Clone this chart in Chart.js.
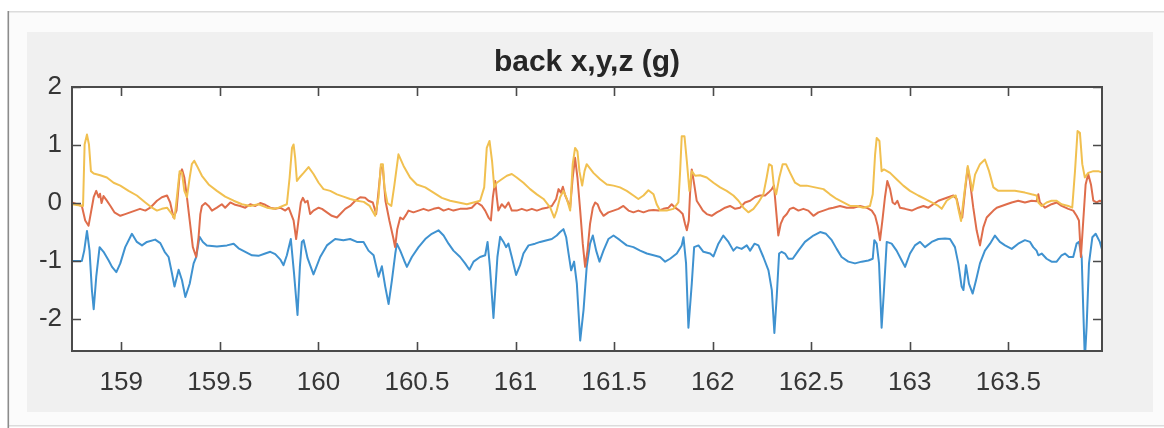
<!DOCTYPE html>
<html>
<head>
<meta charset="utf-8">
<title>back x,y,z (g)</title>
<script src="https://cdn.jsdelivr.net/npm/chart.js@4.4.1/dist/chart.umd.min.js"></script>
<style>
  html, body { margin: 0; padding: 0; background: #ffffff; }
  canvas { display: block; }
</style>
</head>
<body>
<canvas id="accel" width="1164" height="428"></canvas>
<script>
// ---- chart text and axis ticks ----
const titleText = 'back x,y,z (g)';
const xTicks = [159, 159.5, 160, 160.5, 161, 161.5, 162, 162.5, 163, 163.5];
const xTickLabels = ['159', '159.5', '160', '160.5', '161', '161.5', '162', '162.5', '163', '163.5'];
const yTicks = [-2, -1, 0, 1, 2];
const yTickLabels = ['-2', '-1', '0', '1', '2'];
const xRange = [158.75, 163.975];
const yRange = [-2.55, 2];

// ---- x axis of the back sensor (time in s, acceleration in g) ----
const tX = [158.750,158.800,158.812,158.826,158.839,158.851,158.860,158.873,158.890,158.910,158.936,158.953,158.975,158.995,159.020,159.054,159.079,159.105,159.130,159.172,159.198,159.220,159.240,159.257,159.270,159.291,159.308,159.325,159.347,159.367,159.380,159.397,159.414,159.434,159.485,159.536,159.570,159.595,159.629,159.663,159.696,159.730,159.756,159.781,159.806,159.823,159.840,159.860,159.876,159.894,159.906,159.916,159.925,159.945,159.975,160.009,160.043,160.085,160.127,160.161,160.195,160.229,160.254,160.280,160.305,160.322,160.339,160.356,160.373,160.390,160.398,160.415,160.435,160.449,160.474,160.508,160.542,160.575,160.609,160.635,160.660,160.685,160.719,160.744,160.766,160.787,160.820,160.846,160.858,160.870,160.888,160.908,160.922,160.939,160.952,160.964,160.981,161.003,161.023,161.040,161.066,161.099,161.125,161.159,161.184,161.209,161.226,161.243,161.257,161.269,161.282,161.297,161.311,161.328,161.345,161.361,161.378,161.392,161.409,161.426,161.446,161.471,161.497,161.530,161.564,161.598,161.632,161.666,161.700,161.733,161.759,161.784,161.818,161.843,161.852,161.865,161.877,161.894,161.906,161.928,161.953,161.987,162.004,162.029,162.054,162.080,162.105,162.122,162.147,162.173,162.190,162.212,162.232,162.257,162.283,162.300,162.313,162.325,162.337,162.350,162.367,162.384,162.406,162.435,162.468,162.511,162.545,162.575,162.604,162.629,162.654,162.688,162.722,162.756,162.790,162.812,162.820,162.832,162.844,162.857,162.869,162.883,162.908,162.933,162.959,162.976,163.001,163.026,163.052,163.077,163.111,163.145,163.179,163.204,163.229,163.246,163.263,163.272,163.285,163.300,163.319,163.336,163.356,163.381,163.407,163.432,163.457,163.483,163.517,163.550,163.584,163.610,163.626,163.643,163.652,163.669,163.694,163.719,163.745,163.770,163.787,163.807,163.829,163.846,163.858,163.872,163.880,163.888,163.897,163.909,163.926,163.943,163.964,163.981];
const vX = [-1.00,-1.00,-0.82,-0.48,-0.82,-1.50,-1.83,-1.27,-0.76,-0.84,-0.99,-1.10,-1.19,-1.04,-0.76,-0.53,-0.67,-0.73,-0.67,-0.63,-0.69,-0.84,-0.93,-1.21,-1.44,-1.15,-1.33,-1.62,-1.39,-1.04,-0.93,-0.58,-0.67,-0.73,-0.75,-0.73,-0.70,-0.78,-0.84,-0.90,-0.91,-0.87,-0.84,-0.88,-0.97,-1.07,-0.90,-0.62,-1.20,-1.93,-1.10,-0.67,-0.64,-0.95,-1.23,-0.93,-0.73,-0.62,-0.64,-0.62,-0.67,-0.67,-0.82,-0.90,-1.27,-1.09,-1.44,-1.74,-1.33,-0.87,-0.70,-0.82,-0.99,-1.10,-0.93,-0.76,-0.62,-0.53,-0.47,-0.56,-0.70,-0.82,-0.93,-1.04,-1.15,-1.01,-0.93,-0.90,-0.67,-1.10,-1.98,-0.93,-0.58,-0.67,-0.76,-0.70,-0.93,-1.24,-1.07,-0.87,-0.73,-0.70,-0.67,-0.64,-0.62,-0.56,-0.50,-0.45,-0.59,-0.87,-1.16,-1.01,-1.39,-2.37,-1.84,-1.10,-0.70,-0.56,-0.82,-1.01,-0.82,-0.62,-0.56,-0.64,-0.73,-0.76,-0.82,-0.87,-0.90,-0.93,-1.01,-0.96,-0.87,-0.73,-0.59,-1.04,-2.15,-1.39,-0.76,-0.73,-0.84,-0.87,-0.92,-0.70,-0.56,-0.67,-0.82,-0.76,-0.79,-0.73,-0.82,-0.70,-0.73,-0.93,-1.16,-1.50,-2.24,-1.61,-0.87,-0.84,-0.87,-0.96,-0.96,-0.82,-0.67,-0.56,-0.50,-0.53,-0.64,-0.79,-0.93,-1.01,-1.04,-1.01,-0.99,-0.96,-0.64,-0.70,-1.04,-2.15,-1.50,-0.67,-0.70,-0.82,-0.99,-1.10,-0.87,-0.73,-0.67,-0.76,-0.67,-0.62,-0.61,-0.62,-0.76,-1.04,-1.44,-1.50,-1.07,-1.39,-1.56,-1.33,-1.04,-0.82,-0.70,-0.56,-0.67,-0.73,-0.79,-0.70,-0.64,-0.67,-0.76,-0.82,-0.90,-0.87,-0.96,-1.01,-1.01,-0.90,-0.87,-0.93,-0.93,-0.70,-0.67,-0.93,-1.84,-2.70,-2.13,-1.04,-0.59,-0.53,-0.67,-0.87];

// ---- y axis of the back sensor ----
const tY = [158.750,158.800,158.817,158.834,158.860,158.873,158.885,158.892,158.900,158.910,158.925,158.945,158.965,158.995,159.020,159.045,159.070,159.095,159.122,159.147,159.181,159.206,159.232,159.248,159.265,159.280,159.296,159.308,159.320,159.333,159.347,159.363,159.380,159.392,159.401,159.409,159.426,159.443,159.460,159.485,159.510,159.527,159.553,159.578,159.603,159.629,159.654,159.680,159.705,159.730,159.756,159.781,159.806,159.832,159.849,159.874,159.887,159.899,159.911,159.921,159.933,159.945,159.958,159.975,160.001,160.018,160.043,160.068,160.094,160.111,160.136,160.161,160.187,160.212,160.237,160.254,160.276,160.293,160.305,160.317,160.327,160.340,160.360,160.381,160.389,160.400,160.415,160.430,160.445,160.457,160.482,160.508,160.533,160.558,160.584,160.609,160.635,160.660,160.685,160.719,160.753,160.778,160.804,160.830,160.846,160.863,160.875,160.885,160.897,160.905,160.913,160.930,160.947,160.964,160.981,161.006,161.032,161.057,161.083,161.108,161.133,161.159,161.184,161.206,161.218,161.230,161.240,161.252,161.263,161.277,161.290,161.302,161.314,161.328,161.341,161.353,161.365,161.378,161.392,161.404,161.416,161.429,161.446,161.471,161.497,161.522,161.547,161.573,161.598,161.623,161.649,161.674,161.700,161.725,161.750,161.776,161.792,161.810,161.831,161.848,161.860,161.869,161.879,161.885,161.894,161.906,161.919,161.936,161.950,161.970,161.995,162.021,162.038,162.063,162.088,162.114,162.139,162.164,162.190,162.215,162.240,162.266,162.283,162.300,162.311,162.322,162.333,162.345,162.359,162.376,162.392,162.409,162.435,162.460,162.485,162.511,162.536,162.562,162.587,162.612,162.646,162.680,162.714,162.747,162.781,162.807,162.824,162.837,162.849,162.861,162.874,162.886,162.900,162.913,162.925,162.937,162.950,162.976,163.010,163.043,163.069,163.094,163.119,163.145,163.170,163.195,163.221,163.238,163.255,163.266,163.280,163.294,163.305,163.322,163.339,163.356,163.373,163.390,163.407,163.424,163.441,163.466,163.491,163.517,163.550,163.584,163.618,163.643,163.652,163.660,163.686,163.719,163.745,163.770,163.804,163.829,163.846,163.858,163.868,163.880,163.892,163.905,163.919,163.931,163.948,163.964,163.981];
const vY = [0.01,-0.05,-0.30,-0.39,0.10,0.21,0.10,0.16,0.00,0.12,0.05,-0.05,-0.16,-0.22,-0.19,-0.16,-0.13,-0.10,-0.13,-0.08,0.04,0.10,0.13,0.01,-0.25,-0.13,0.49,0.58,0.44,0.10,-0.30,-0.76,-0.93,-0.59,-0.19,-0.05,0.00,-0.05,-0.13,-0.08,-0.02,-0.08,0.01,-0.03,-0.05,-0.08,-0.02,-0.05,0.00,-0.03,-0.08,-0.10,-0.08,-0.13,-0.08,-0.30,-0.62,-0.30,0.01,0.09,0.01,0.04,-0.19,-0.13,-0.08,-0.10,-0.16,-0.22,-0.25,-0.19,-0.10,-0.05,0.04,0.10,0.09,0.04,0.01,-0.19,0.20,0.62,0.60,0.04,-0.30,-0.62,-0.76,-0.45,-0.25,-0.28,-0.20,-0.13,-0.16,-0.13,-0.10,-0.13,-0.10,-0.08,-0.13,-0.10,-0.13,-0.10,-0.10,-0.08,0.01,-0.05,-0.13,-0.25,-0.30,0.10,0.38,0.10,-0.13,-0.02,-0.08,0.01,-0.13,-0.13,-0.10,-0.13,-0.10,-0.13,-0.10,-0.08,-0.05,0.07,0.24,0.18,0.28,0.13,0.04,-0.08,0.44,0.78,0.44,-0.13,-0.70,-1.10,-0.82,-0.36,-0.08,0.01,-0.02,-0.13,-0.22,-0.16,-0.13,-0.10,-0.05,-0.13,-0.16,-0.13,-0.16,-0.13,-0.12,-0.13,-0.10,-0.08,-0.02,-0.08,-0.13,-0.19,-0.36,-0.47,-0.30,0.15,0.58,0.33,0.04,-0.05,-0.13,-0.19,-0.22,-0.16,-0.13,-0.08,-0.05,-0.10,-0.08,0.01,0.04,0.10,0.13,0.13,0.18,0.24,0.30,-0.13,-0.56,-0.36,-0.25,-0.19,-0.10,-0.08,-0.13,-0.10,-0.13,-0.22,-0.16,-0.13,-0.10,-0.08,-0.05,-0.08,-0.08,-0.05,-0.08,-0.13,-0.22,-0.39,-0.64,-0.30,0.10,0.38,0.24,0.01,-0.02,0.04,-0.08,-0.10,-0.13,-0.08,-0.05,-0.08,-0.02,0.04,0.07,0.10,0.13,0.07,-0.19,-0.25,0.21,0.61,0.38,-0.08,-0.47,-0.73,-0.42,-0.25,-0.19,-0.13,-0.08,-0.05,-0.02,0.01,0.04,0.01,0.04,0.03,0.15,0.01,-0.08,-0.02,0.01,-0.05,-0.10,-0.13,-0.22,-0.30,-0.93,-0.30,0.32,0.50,0.32,0.04,0.01,0.04,0.01];

// ---- z axis of the back sensor ----
const tZ = [158.750,158.806,158.814,158.826,158.836,158.846,158.860,158.893,158.927,158.961,158.995,159.037,159.079,159.122,159.156,159.181,159.206,159.232,159.257,159.270,159.282,159.296,159.308,159.320,159.333,159.347,159.358,159.370,159.384,159.409,159.443,159.485,159.527,159.570,159.612,159.654,159.696,159.739,159.772,159.798,159.840,159.854,159.866,159.874,159.882,159.891,159.904,159.925,159.950,159.975,160.001,160.026,160.060,160.094,160.127,160.161,160.195,160.230,160.260,160.288,160.305,160.317,160.327,160.335,160.350,160.370,160.385,160.406,160.432,160.465,160.499,160.542,160.584,160.626,160.668,160.711,160.753,160.787,160.820,160.841,160.854,160.868,160.881,160.892,160.905,160.930,160.956,160.981,161.006,161.040,161.074,161.108,161.142,161.176,161.196,161.209,161.226,161.243,161.260,161.277,161.290,161.302,161.314,161.324,161.338,161.350,161.361,161.395,161.429,161.463,161.497,161.530,161.564,161.598,161.623,161.649,161.674,161.700,161.716,161.733,161.767,161.801,161.826,161.835,161.843,161.857,161.869,161.882,161.894,161.911,161.936,161.970,162.004,162.038,162.071,162.105,162.131,162.156,162.181,162.207,162.232,162.257,162.274,162.286,162.300,162.311,162.322,162.338,162.355,162.372,162.393,162.418,162.443,162.477,162.519,162.562,162.595,162.629,162.663,162.697,162.731,162.764,162.798,162.812,162.824,162.832,162.846,162.857,162.869,162.900,162.933,162.967,163.001,163.043,163.077,163.111,163.145,163.162,163.187,163.212,163.233,163.246,163.260,163.276,163.294,163.305,163.317,163.331,163.356,163.381,163.402,163.424,163.449,163.483,163.533,163.584,163.618,163.643,163.652,163.669,163.694,163.719,163.745,163.770,163.804,163.824,163.838,163.851,163.863,163.875,163.888,163.905,163.931,163.956,163.981];
const vZ = [-0.02,-0.05,1.01,1.18,1.01,0.55,0.51,0.48,0.44,0.35,0.30,0.21,0.13,0.01,-0.08,-0.13,-0.10,-0.08,-0.19,-0.27,0.10,0.55,0.52,0.21,0.10,0.44,0.67,0.73,0.64,0.47,0.32,0.21,0.11,0.04,-0.02,-0.05,-0.02,-0.08,-0.10,-0.08,-0.02,0.44,0.95,1.01,0.78,0.38,0.44,0.52,0.62,0.50,0.35,0.24,0.21,0.15,0.11,0.07,0.04,0.02,-0.05,-0.22,0.10,0.67,0.67,0.27,0.00,-0.05,0.30,0.84,0.64,0.44,0.32,0.27,0.18,0.09,0.04,0.01,-0.02,0.01,0.04,0.27,0.95,1.07,0.72,0.27,0.35,0.41,0.47,0.50,0.44,0.35,0.24,0.15,0.07,-0.08,-0.25,-0.13,0.10,0.21,0.07,-0.13,0.67,0.95,0.89,0.55,0.30,0.55,0.67,0.52,0.41,0.32,0.30,0.27,0.21,0.13,0.07,0.13,0.22,0.15,-0.02,-0.13,-0.13,-0.10,0.01,0.55,1.15,1.15,0.72,0.21,0.55,0.47,0.48,0.44,0.35,0.27,0.21,0.13,0.04,-0.08,-0.16,-0.10,0.01,0.15,0.44,0.67,0.64,0.27,0.15,0.44,0.67,0.67,0.52,0.35,0.30,0.30,0.27,0.24,0.15,0.07,0.01,-0.05,-0.05,-0.08,-0.05,0.15,0.84,1.12,1.07,0.55,0.58,0.52,0.41,0.30,0.21,0.13,0.07,0.01,-0.05,-0.10,0.04,0.10,0.13,-0.10,-0.31,0.15,0.64,0.44,0.21,0.49,0.67,0.75,0.55,0.27,0.21,0.21,0.21,0.18,0.15,0.13,0.01,-0.05,0.01,0.04,0.04,-0.02,-0.05,-0.08,0.55,1.24,1.21,0.67,0.44,0.52,0.55,0.55,0.52];

const toPoints = (ts, vs) => ts.map((t, i) => ({ x: t, y: vs[i] }));

const tickFont = { family: "'Liberation Sans', Arial, Helvetica, sans-serif", size: 26 };

// grey figure panel behind the white axes
const figurePanel = {
  id: 'figurePanel',
  beforeDraw(chart) {
    const { ctx, width, height, chartArea: a } = chart;
    ctx.save();
    ctx.fillStyle = '#ffffff';
    ctx.fillRect(0, 0, width, height);
    ctx.fillStyle = '#fbfbfb';
    ctx.fillRect(9, 12, width - 9, height - 15);
    ctx.fillStyle = '#dcdcdc';
    ctx.fillRect(9, 11, width - 9, 1.5);
    ctx.fillRect(9, 425, width - 9, 1.5);
    ctx.fillStyle = '#8c8c8c';
    ctx.fillRect(7.5, 11, 1.6, height - 11);
    ctx.fillStyle = '#f0f0f0';
    ctx.fillRect(27, 32, 1126, 380);
    ctx.fillStyle = '#ffffff';
    ctx.fillRect(a.left, a.top, a.right - a.left, a.bottom - a.top);
    ctx.restore();
  }
};

// axes box with inward tick marks on all four sides
const axesBox = {
  id: 'axesBox',
  afterDatasetsDraw(chart) {
    const { ctx, chartArea: a, scales } = chart;
    const len = 9;
    ctx.save();
    ctx.strokeStyle = '#4a4a4a';
    ctx.lineWidth = 1.6;
    ctx.beginPath();
    xTicks.forEach(v => {
      const px = Math.round(scales.x.getPixelForValue(v)) + 0.5;
      ctx.moveTo(px, a.bottom); ctx.lineTo(px, a.bottom - len);
      ctx.moveTo(px, a.top); ctx.lineTo(px, a.top + len);
    });
    yTicks.forEach(v => {
      const py = Math.round(scales.y.getPixelForValue(v)) + 0.5;
      ctx.moveTo(a.left, py); ctx.lineTo(a.left + len, py);
      ctx.moveTo(a.right, py); ctx.lineTo(a.right - len, py);
    });
    ctx.stroke();
    ctx.lineWidth = 2;
    ctx.strokeRect(a.left, a.top, a.right - a.left, a.bottom - a.top);
    ctx.restore();
  }
};

const lineStyle = { pointRadius: 0, borderWidth: 2, tension: 0, fill: false, borderJoinStyle: 'round' };

new Chart(document.getElementById('accel'), {
  type: 'line',
  data: {
    datasets: [
      { label: 'x', data: toPoints(tX, vX), borderColor: '#3f92d0', order: 3, ...lineStyle },
      { label: 'y', data: toPoints(tY, vY), borderColor: '#df6d4b', order: 2, ...lineStyle },
      { label: 'z', data: toPoints(tZ, vZ), borderColor: '#f1c050', order: 1, ...lineStyle }
    ]
  },
  options: {
    responsive: false,
    animation: false,
    devicePixelRatio: 1,
    events: [],
    layout: { padding: { left: 0, right: 62, top: 0, bottom: 27 } },
    plugins: {
      legend: { display: false },
      tooltip: { enabled: false },
      title: {
        display: true,
        fullSize: false,
        text: titleText,
        color: '#262626',
        font: { family: "'Liberation Sans', Arial, Helvetica, sans-serif", size: 30, weight: 'bold' },
        padding: { top: 45, bottom: 6 }
      }
    },
    scales: {
      x: {
        type: 'linear',
        min: xRange[0],
        max: xRange[1],
        grid: { display: false, drawTicks: false },
        border: { display: false },
        afterBuildTicks: axis => { axis.ticks = xTicks.map(v => ({ value: v })); },
        afterFit: scale => { scale.height = 50; },
        ticks: {
          padding: 16, color: '#363636', font: tickFont,
          maxRotation: 0, autoSkip: false,
          callback: (value, index) => xTickLabels[index]
        }
      },
      y: {
        type: 'linear',
        min: yRange[0],
        max: yRange[1],
        grid: { display: false, drawTicks: false },
        border: { display: false },
        afterBuildTicks: axis => { axis.ticks = yTicks.map(v => ({ value: v })); },
        afterFit: scale => { scale.width = 72; },
        ticks: {
          padding: 10, color: '#363636', font: tickFont,
          autoSkip: false,
          callback: (value, index) => yTickLabels[index]
        }
      }
    }
  },
  plugins: [figurePanel, axesBox]
});
</script>
</body>
</html>
